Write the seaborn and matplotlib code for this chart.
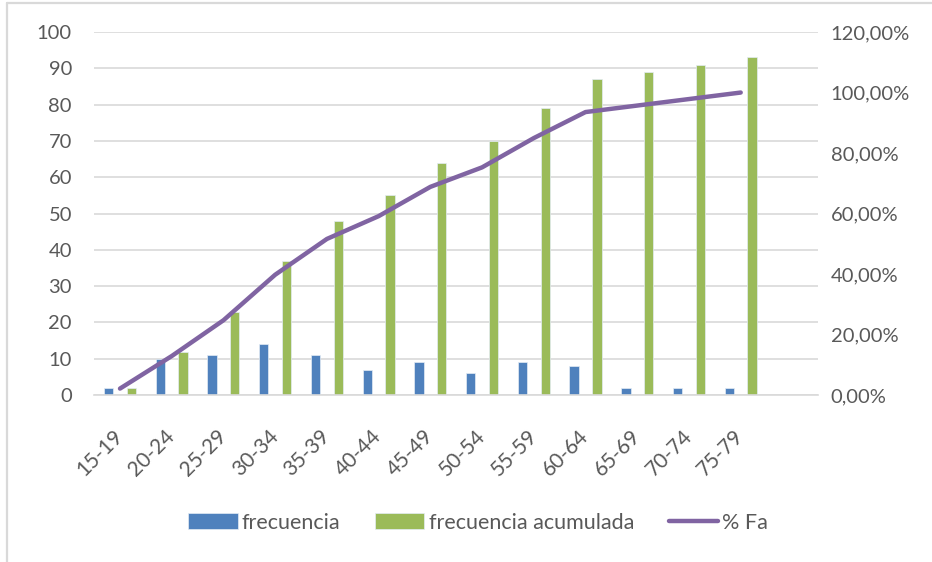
import pandas as pd
import matplotlib.pyplot as plt
import seaborn as sns
from matplotlib.ticker import FuncFormatter, MultipleLocator
from matplotlib.lines import Line2D

# datos
edades = ['15-19', '20-24', '25-29', '30-34', '35-39', '40-44', '45-49',
          '50-54', '55-59', '60-64', '65-69', '70-74', '75-79']
frecuencia = [2, 10, 11, 14, 11, 7, 9, 6, 9, 8, 2, 2, 2]
frec_acumulada = [2, 12, 23, 37, 48, 55, 64, 70, 79, 87, 89, 91, 93]
pct_fa = [0.0215, 0.1290, 0.2473, 0.3978, 0.5161, 0.5914, 0.6882,
          0.7527, 0.8495, 0.9355, 0.9570, 0.9785, 1.0]

if __name__ == '__main__':
    sns.set_style('white')
    plt.rcParams['font.family'] = ['Lato', 'DejaVu Sans']
    gris = '#595959'

    df = pd.DataFrame({
        'edad': edades * 2,
        'valor': frecuencia + frec_acumulada,
        'serie': ['frecuencia'] * len(edades) + ['frecuencia acumulada'] * len(edades),
    })
    df_line = pd.DataFrame({'pos': range(len(edades)), 'pct': pct_fa})

    fig = plt.figure(figsize=(9.32, 5.62), dpi=100)
    ax = fig.add_axes([0.101, 0.297, 0.777, 0.646])

    sns.barplot(data=df, x='edad', y='valor', hue='serie', order=edades,
                palette=['#4F81BD', '#9BBB59'], saturation=1, width=0.88, gap=0.59,
                edgecolor='#e4ecf5', linewidth=0.5, ax=ax)
    h1, l1 = ax.get_legend_handles_labels()
    ax.get_legend().remove()

    ax.set_xlim(-0.5, 13.5)
    ax.set_ylim(0, 100)
    ax.yaxis.set_major_locator(MultipleLocator(10))
    ax.set_axisbelow(True)
    ax.grid(axis='y', color='#D9D9D9', linewidth=1.2)
    ax.set_xlabel('')
    ax.set_ylabel('')
    for s in ['top', 'left', 'right']:
        ax.spines[s].set_visible(False)
    ax.spines['bottom'].set_color('#D9D9D9')
    ax.spines['bottom'].set_linewidth(1.2)
    ax.tick_params(axis='y', length=0, pad=16, labelsize=14.5, labelcolor=gris)
    ax.tick_params(axis='x', length=0, pad=27, labelsize=15, labelcolor=gris)
    plt.setp(ax.get_xticklabels(), rotation=45, ha='right', va='center',
             rotation_mode='anchor')

    ax2 = ax.twinx()
    sns.lineplot(data=df_line, x='pos', y='pct', color='#8064A2', linewidth=3.2,
                 label='% Fa', ax=ax2)
    h2, l2 = ax2.get_legend_handles_labels()
    ax2.get_legend().remove()
    ax2.set_ylim(0, 1.2)
    ax2.yaxis.set_major_locator(MultipleLocator(0.2))
    ax2.yaxis.set_major_formatter(FuncFormatter(lambda v, p: f'{v * 100:.2f}%'.replace('.', ',')))
    ax2.set_ylabel('')
    for s in ['top', 'left', 'right', 'bottom']:
        ax2.spines[s].set_visible(False)
    ax2.tick_params(axis='y', length=0, pad=9, labelsize=14.5, labelcolor=gris)

    fig.legend(h1 + h2, l1 + l2, loc='center', bbox_to_anchor=(0.513, 0.07),
               ncol=3, frameon=False, fontsize=15.5, labelcolor=gris,
               handlelength=2.3, handleheight=0.8, handletextpad=0.2,
               columnspacing=1.6)

    # borde del area del grafico
    fig.add_artist(Line2D([0.0075, 0.0075], [0, 0.995], color='#D9D9D9', linewidth=1.6,
                          transform=fig.transFigure))
    fig.add_artist(Line2D([0.0075, 1.0], [0.995, 0.995], color='#D9D9D9', linewidth=1.6,
                          transform=fig.transFigure))

    fig.savefig('out.png', dpi=100)
